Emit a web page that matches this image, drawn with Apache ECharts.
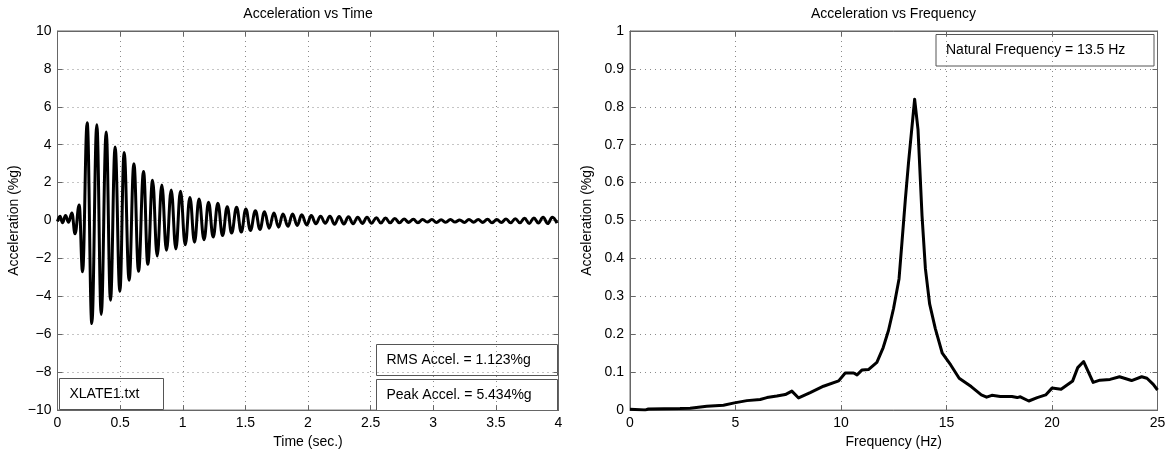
<!DOCTYPE html>
<html>
<head>
<meta charset="utf-8">
<script src="https://cdn.jsdelivr.net/npm/echarts@6/dist/echarts.min.js"></script>
<style>
html,body{margin:0;padding:0;background:#fff;}
#c{width:1172px;height:454px;}
</style>
</head>
<body>
<div id="c"></div>
<script>
// ---- Data ----
const timeSec = [
  0, 0.02, 0.04, 0.064, 0.088, 0.115, 0.14, 0.173, 0.20, 0.237,
  0.274, 0.314, 0.349, 0.389, 0.423, 0.46, 0.498, 0.532, 0.572, 0.61,
  0.647, 0.687, 0.721, 0.759, 0.796, 0.833, 0.87, 0.908, 0.945, 0.982,
  1.02, 1.057, 1.094, 1.13, 1.17, 1.206, 1.243, 1.28, 1.318, 1.355,
  1.39, 1.43, 1.467, 1.504, 1.54, 1.58, 1.616, 1.653, 1.69, 1.728,
  1.765, 1.80, 1.84, 1.877, 1.914, 1.95, 1.99, 2.026, 2.063, 2.10,
  2.138, 2.175, 2.212, 2.249, 2.286, 2.323, 2.360, 2.397, 2.434, 2.471,
  2.508, 2.545, 2.582, 2.619, 2.656, 2.693, 2.730, 2.767, 2.804, 2.841,
  2.878, 2.915, 2.952, 2.989, 3.026, 3.063, 3.100, 3.137, 3.174, 3.211,
  3.248, 3.285, 3.322, 3.359, 3.396, 3.433, 3.470, 3.507, 3.544, 3.581,
  3.618, 3.655, 3.692, 3.729, 3.766, 3.803, 3.840, 3.877, 3.914, 3.951,
  3.988
];
const accelPctG = [
  -0.05, 0.23, -0.12, 0.26, -0.09, 0.40, -0.70, 0.82, -2.70, 5.16,
  -5.434, 5.06, -4.95, 4.67, -4.20, 3.88, -3.73, 3.59, -3.15, 3.00,
  -2.68, 2.59, -2.31, 2.13, -1.87, 1.87, -1.57, 1.61, -1.50, 1.54,
  -1.28, 1.22, -1.14, 1.14, -1.01, 0.96, -0.87, 0.91, -0.79, 0.73,
  -0.66, 0.70, -0.61, 0.61, -0.52, 0.52, -0.47, 0.47, -0.40, 0.40,
  -0.35, 0.35, -0.30, 0.35, -0.26, 0.30, -0.23, 0.26, -0.17, 0.23,
  -0.14, 0.23, -0.20, 0.22, -0.18, 0.20, -0.17, 0.18, -0.15, 0.17,
  -0.14, 0.15, -0.13, 0.13, -0.12, 0.11, -0.12, 0.08, -0.10, 0.07,
  -0.12, 0.06, -0.08, 0.05, -0.10, 0.04, -0.09, 0.05, -0.08, 0.03,
  -0.10, 0.06, -0.09, 0.05, -0.10, 0.07, -0.12, 0.06, -0.10, 0.08,
  -0.12, 0.10, -0.12, 0.12, -0.15, 0.14, -0.13, 0.17, -0.16, 0.18,
  -0.14
];
const freqHz = [
  0, 0.71, 0.87, 2.37, 2.85, 3.64, 4.43, 4.95, 5.54, 6.17,
  6.49, 6.96, 7.36, 7.67, 7.99, 8.54, 9.17, 9.89, 10.2, 10.6,
  10.76, 11.0, 11.3, 11.7, 12.0, 12.25, 12.49, 12.75, 12.89, 13.05,
  13.2, 13.49, 13.65, 13.84, 14.0, 14.2, 14.47, 14.8, 15.2, 15.6,
  16.17, 16.65, 16.9, 17.15, 17.55, 18.1, 18.35, 18.5, 18.9, 19.3,
  19.7, 20.0, 20.43, 20.98, 21.22, 21.5, 21.95, 22.27, 22.75, 23.2,
  23.77, 24.25, 24.5, 24.8, 25.0
];
const fftAmpPctG = [
  0.002, 0.0, 0.003, 0.004, 0.005, 0.010, 0.013, 0.019, 0.025, 0.028,
  0.033, 0.037, 0.041, 0.050, 0.032, 0.046, 0.063, 0.077, 0.098, 0.098,
  0.093, 0.106, 0.107, 0.126, 0.165, 0.21, 0.268, 0.346, 0.443, 0.556,
  0.653, 0.82, 0.74, 0.513, 0.373, 0.28, 0.215, 0.150, 0.119, 0.084,
  0.062, 0.040, 0.034, 0.039, 0.036, 0.036, 0.033, 0.035, 0.024, 0.033,
  0.040, 0.058, 0.055, 0.077, 0.112, 0.128, 0.073, 0.079, 0.081, 0.088,
  0.078, 0.088, 0.084, 0.068, 0.053
];
const titles = ['Acceleration vs Time', 'Acceleration vs Frequency'];
const xNames = ['Time (sec.)', 'Frequency (Hz)'];
const yName = 'Acceleration (%g)';
const leftNotes = ['XLATE1.txt', 'RMS Accel. = 1.123%g', 'Peak Accel. = 5.434%g'];
const rightNote = 'Natural Frequency = 13.5 Hz';

// ---- Chart ----
const FONT = '"Liberation Sans", Arial, sans-serif';
const chart = echarts.init(document.getElementById('c'), null, {renderer: 'canvas'});

const G = [
  {left: 57.5, top: 31, width: 501, height: 380},
  {left: 630, top: 31, width: 527.5, height: 381}
];
const minusFmt = v => {
  const s = String(+v.toFixed(4));
  return s.replace('-', '\u2212');
};
const gridLine = {show: true, lineStyle: {color: '#8a8a8a', type: [1, 4], width: 1}};
const axLine = {show: true, onZero: false, lineStyle: {color: '#666', width: 1}};
const tick = {show: true, inside: true, length: 5, lineStyle: {color: '#666'}};
const lbl = {color: '#000', fontSize: 14, fontFamily: FONT};

function mainX(gi, min, max, interval, name) {
  return {type: 'value', gridIndex: gi, min, max, interval, position: 'bottom',
    name, nameLocation: 'middle', nameGap: 22,
    nameTextStyle: {color: '#000', fontSize: 14, fontFamily: FONT},
    axisLine: axLine, axisTick: tick, splitLine: gridLine,
    axisLabel: Object.assign({margin: 6, formatter: minusFmt}, lbl)};
}
function mainY(gi, min, max, interval) {
  return {type: 'value', gridIndex: gi, min, max, interval, position: 'left',
    name: yName, nameLocation: 'middle', nameGap: 36, nameRotate: 90,
    nameTextStyle: {color: '#000', fontSize: 14, fontFamily: FONT},
    axisLine: axLine, axisTick: tick, splitLine: gridLine,
    axisLabel: Object.assign({margin: 6, formatter: minusFmt}, lbl)};
}
function mirror(type, gi, min, max, interval, pos) {
  return {type: 'value', gridIndex: gi, min, max, interval, position: pos,
    axisLine: axLine, axisTick: tick, splitLine: {show: false}, axisLabel: {show: false}};
}

function noteBox(x, y, w, h, text) {
  return {
    type: 'group', left: x, top: y, z: 100,
    children: [
      {type: 'rect', shape: {x: 0, y: 0, width: w, height: h},
       style: {fill: '#fff', stroke: '#555', lineWidth: 1}},
      {type: 'text', x: 10, y: h / 2,
       style: {text, fill: '#000', font: '14px ' + FONT, textVerticalAlign: 'middle', verticalAlign: 'middle'}}
    ]
  };
}

const option = {
  animation: false,
  backgroundColor: '#fff',
  grid: G.map(g => Object.assign({containLabel: false, show: true, borderColor: '#666', borderWidth: 1, backgroundColor: 'transparent'}, g)),
  xAxis: [
    mainX(0, 0, 4, 0.5, xNames[0]),
    mainX(1, 0, 25, 5, xNames[1]),
    mirror('x', 0, 0, 4, 0.5, 'top'),
    mirror('x', 1, 0, 25, 5, 'top')
  ],
  yAxis: [
    mainY(0, -10, 10, 2),
    mainY(1, 0, 1, 0.1),
    mirror('y', 0, -10, 10, 2, 'right'),
    mirror('y', 1, 0, 1, 0.1, 'right')
  ],
  series: [
    {type: 'line', xAxisIndex: 0, yAxisIndex: 0, showSymbol: false,
     smooth: 0.42, smoothMonotone: 'x',
     lineStyle: {color: '#000', width: 3}, z: 10,
     data: timeSec.map((t, i) => [t, accelPctG[i]])},
    {type: 'line', xAxisIndex: 1, yAxisIndex: 1, showSymbol: false,
     lineStyle: {color: '#000', width: 3, join: 'round'}, z: 10,
     data: freqHz.map((f, i) => [f, fftAmpPctG[i]])}
  ],
  graphic: [
    {type: 'text', x: 308, y: 14, style: {text: titles[0], fill: '#000', font: '14px ' + FONT, align: 'center', verticalAlign: 'middle'}},
    {type: 'text', x: 893.5, y: 14, style: {text: titles[1], fill: '#000', font: '14px ' + FONT, align: 'center', verticalAlign: 'middle'}},
    noteBox(59, 378, 104, 31, leftNotes[0]),
    noteBox(376, 344, 181, 31, leftNotes[1]),
    noteBox(376, 379, 181, 31, leftNotes[2]),
    noteBox(935.5, 34, 218, 31.5, rightNote)
  ]
};
chart.setOption(option);
</script>
</body>
</html>
